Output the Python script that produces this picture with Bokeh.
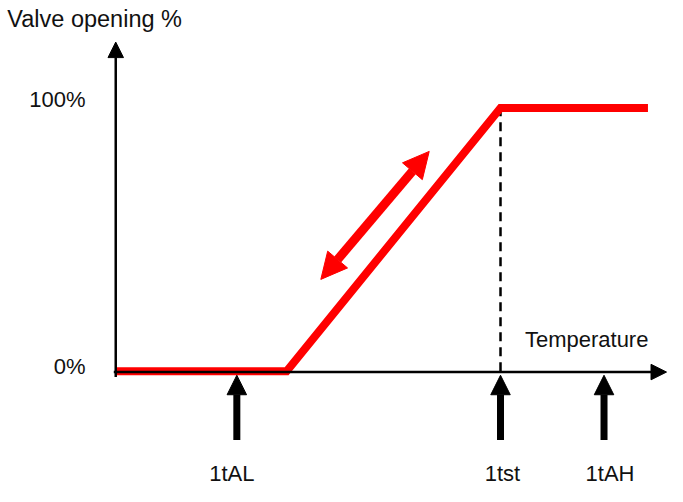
from bokeh.plotting import figure
from bokeh.models import Arrow, NormalHead, Range1d, ColumnDataSource
from bokeh.core.properties import value
from bokeh.embed import file_html
from bokeh.resources import INLINE

# ---- data ----
curve_temp = [0.0, 17.5, 39.4, 54.5]        # temperature (arbitrary units)
curve_open = [0, 0, 100, 100]               # valve opening %
setpoint_names = ["1tAL", "1tst", "1tAH"]
setpoint_temps = [12.4, 39.4, 50.0]
y_tick_values = [2.0, 103.3]
y_tick_labels = ["0%", "100%"]
x_axis_title = "Temperature"
y_axis_title = "Valve opening %"

FONT = value("Liberation Sans")

p = figure(width=667, height=486, output_backend="svg", toolbar_location=None,
           x_axis_location=None, y_axis_location=None, min_border=0,
           x_range=Range1d(-11.8, 56.5), y_range=Range1d(-43.75, 140.8))
p.grid.visible = False
p.outline_line_color = None
p.background_fill_color = "white"
p.border_fill_color = "white"

# axes with arrows
p.add_layout(Arrow(x_start=0, y_start=-2.2, x_end=0, y_end=125.0,
                   line_width=2.5, line_color="black",
                   end=NormalHead(size=15.5, fill_color="black", line_color="black")))
p.add_layout(Arrow(x_start=-0.2, y_start=-0.3, x_end=56.4, y_end=-0.3,
                   line_width=2.5, line_color="black",
                   end=NormalHead(size=15.5, fill_color="black", line_color="black")))

# dashed line at 1tst
p.segment(x0=[setpoint_temps[1]], y0=[0], x1=[setpoint_temps[1]], y1=[curve_open[2]],
          line_color="black", line_width=2.5, line_dash="9 6")

# valve curve
p.line(curve_temp, curve_open, line_color="#ff0000", line_width=8, line_join="miter")

# double red arrow alongside ramp
p.add_layout(Arrow(x_start=21.0, y_start=34.9, x_end=32.1, y_end=83.5,
                   line_width=9, line_color="#ff0000",
                   start=NormalHead(size=26, fill_color="#ff0000", line_color="#ff0000"),
                   end=NormalHead(size=26, fill_color="#ff0000", line_color="#ff0000")))

# setpoint arrows
for t in setpoint_temps:
    p.add_layout(Arrow(x_start=t, y_start=-26.1, x_end=t, y_end=-1.5,
                       line_width=7, line_color="black",
                       end=NormalHead(size=19.5, fill_color="black", line_color="black")))

# setpoint labels
lab_src = ColumnDataSource(dict(x=setpoint_temps, y=[-38.8] * 3, text=setpoint_names,
                                dx=[-5, 2, 6]))
p.text(x="x", y="y", text="text", x_offset="dx", source=lab_src, text_font=FONT,
       text_font_size="22px", text_align="center", text_baseline="middle",
       text_color="#111111")

# y tick labels
p.text(x=[-3.1, -3.1], y=y_tick_values, text=y_tick_labels, text_font=FONT,
       text_font_size="22px", text_align="right", text_baseline="middle",
       text_color="#111111")

# axis titles
p.text(x=[41.9], y=[12.1], text=[x_axis_title], text_font=FONT,
       text_font_size="22px", text_align="left", text_baseline="middle",
       text_color="#111111")
p.text(x=[-11.1], y=[133.6], text=[y_axis_title], text_font=FONT,
       text_font_size="23.5px", text_align="left", text_baseline="middle",
       text_color="#111111")

open("out.html", "w").write(file_html(p, INLINE))
